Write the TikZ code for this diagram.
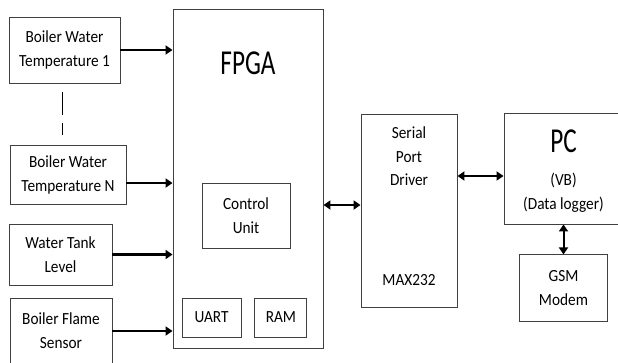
\documentclass[tikz,border=0pt]{standalone}
\usepackage{fontspec}
\setmainfont{Carlito}[FakeStretch=0.9]
\newfontfamily\titlefont{Carlito}[FakeStretch=0.72]
\usetikzlibrary{positioning, arrows.meta}

\begin{document}
\begin{tikzpicture}[x=1pt, y=-1pt, node distance=8pt,
	blk/.style={draw=black!75, line width=0.9pt, align=center, inner sep=0pt, font=\fontsize{17}{24}\selectfont},
	txt/.style={align=center, inner sep=0pt, font=\fontsize{17}{23.5}\selectfont},
	ttl/.style={inner sep=0pt, font=\titlefont\fontsize{35}{35}\selectfont},
	sig/.style={line width=2.2pt, -{Triangle[length=7pt,width=9pt]}},
	bus/.style={line width=2pt, {Triangle[length=7pt,width=9pt]}-{Triangle[length=7pt,width=9pt]}}]
	\useasboundingbox (0,0) rectangle (618,362);
	\clip (0,0) rectangle (618,362);
	% sensors
	\node[blk, minimum width=111, minimum height=66] (bw1) at (64.5,50) {Boiler Water\\Temperature 1};
	\node[blk, minimum width=116, minimum height=59] (bwN) at (68,174.5) {Boiler Water\\Temperature N};
	\node[blk, minimum width=103, minimum height=61] (tank) at (60.5,254.5) {Water Tank\\Level};
	\node[blk, minimum width=102, minimum height=66] (flame) at (61,331) {Boiler Flame\\Sensor};
	\draw[line width=1pt, dash pattern=on 23pt off 8pt] ([xshift=-2.5pt, yshift=-9pt]bw1.south) -- ([xshift=-6pt, yshift=10pt]bwN.north);
	% FPGA
	\node[blk, minimum width=150, minimum height=339] (fpga) at (248,178.5) {};
	\node[ttl, below=43.5pt of fpga.north] (fpgat) {FPGA};
	\node[blk, minimum width=88, minimum height=65] (cu) at (246,215.5) {Control\\Unit};
	\node[blk, minimum width=59, minimum height=39] (uart) at (211.5,317.5) {UART};
	\node[blk, minimum width=52, minimum height=39, right=13pt of uart] (ram) {RAM};
	% serial port driver
	\node[blk, minimum width=96, minimum height=193] (spd) at (409,210.5) {};
	\node[txt] (spdt) at ([yshift=-43pt]spd.north) {Serial\\Port\\Driver};
	\node[txt] (max) at ([yshift=-166pt]spd.north) {MAX232};
	% PC and modem
	\node[blk, minimum width=119, minimum height=111] (pc) at (563.5,168.5) {};
	\node[ttl] (pct) at ([yshift=-28.5pt]pc.north) {PC};
	\node[txt] (vb) at ([yshift=-80pt]pc.north) {(VB)\\(Data logger)};
	\node[blk, minimum width=88, minimum height=67, below=30pt of pc] (gsm) {GSM\\Modem};
	% links
	\draw[sig] (bw1.east) -- (bw1.east -| fpga.west);
	\draw[sig] ([yshift=-8.5pt]bwN.east) coordinate (aux) -- (aux -| fpga.west);
	\draw[sig] (tank.east) -- (tank.east -| fpga.west);
	\draw[sig] (flame.east) -- (flame.east -| fpga.west);
	\draw[bus] ([yshift=5.5pt]spd.west) coordinate (aux) -- (aux -| fpga.east);
	\draw[bus] ([yshift=-7.5pt]pc.west) coordinate (aux) -- (aux -| spd.east);
	\draw[bus] (gsm.north) -- (gsm.north |- pc.south);
\end{tikzpicture}
\end{document}
